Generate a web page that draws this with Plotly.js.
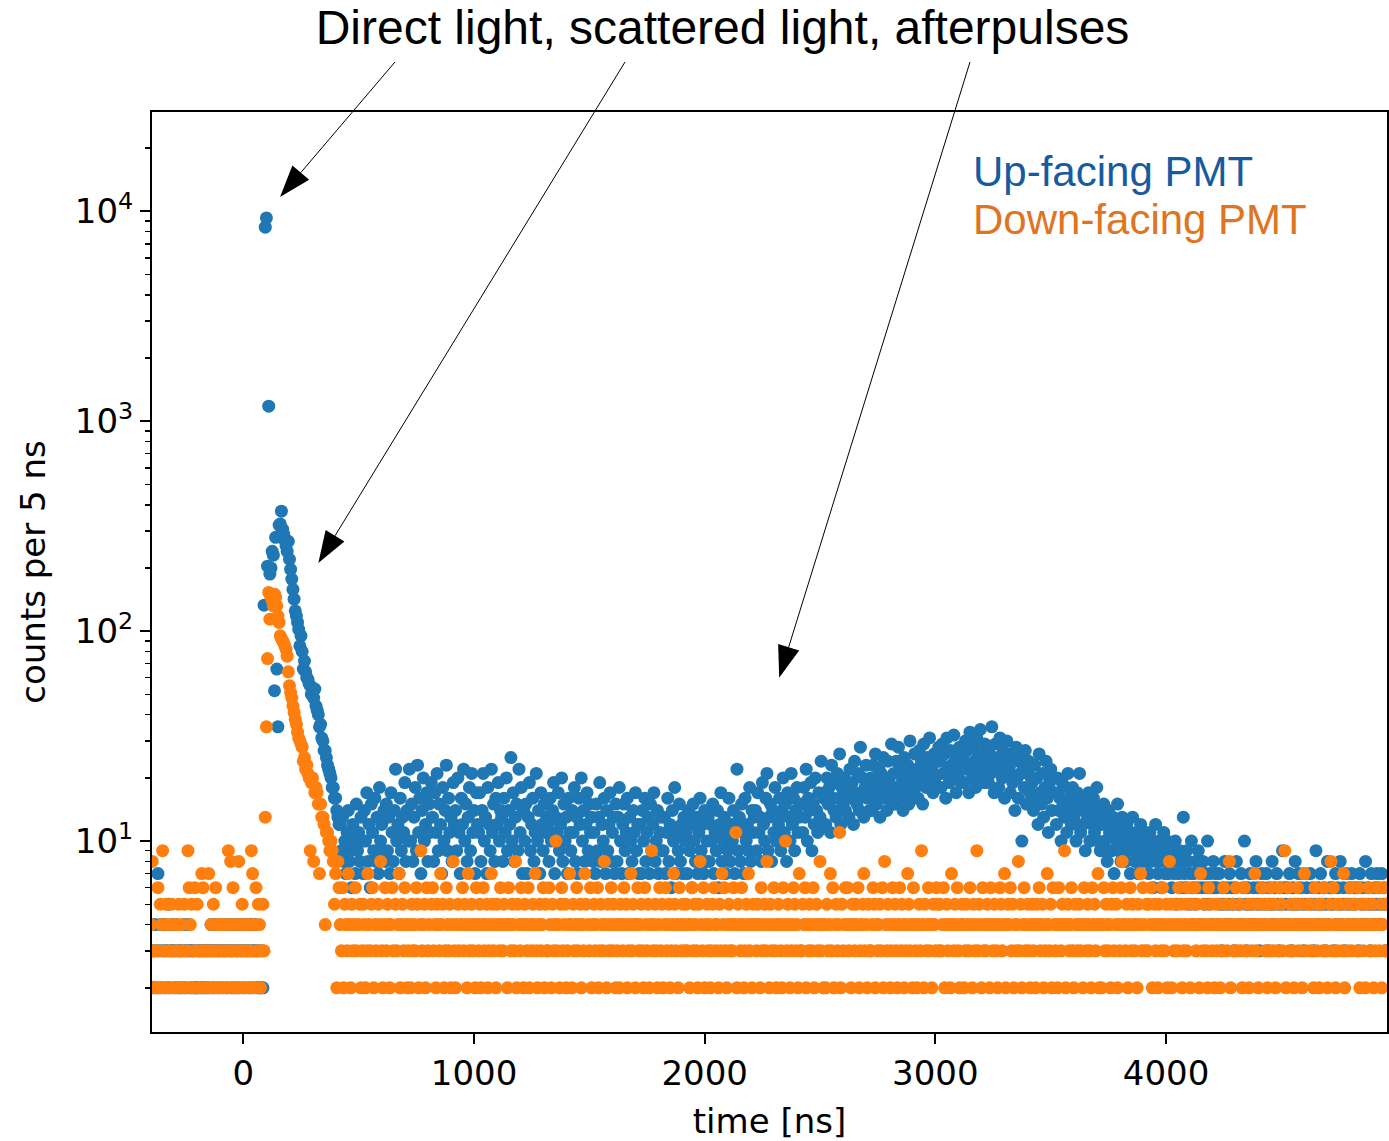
<!DOCTYPE html>
<html><head><meta charset="utf-8">
<script src="https://cdn.plot.ly/plotly-3.0.1.min.js"></script>
<style>html,body{margin:0;padding:0;background:#fff}</style>
</head><body><div id="chart" style="width:1389px;height:1141px"></div>
<script>
// ---- binning ----
const firstBinNs = -400;
const binWidthNs = 5;

// ---- Up-facing PMT counts per 5 ns ----
const upEarly = [ // -400 .. 85 ns
2,2,3,4,3,2,7,3,4,2,3,4,3,2,3,5,2,3,4,3,
3,2,4,3,2,3,3,2,4,3,2,3,4,3,2,3,3,2,3,2,
2,3,3,2,3,2,3,3,2,3,2,3,4,3,2,3,4,3,2,3,
3,4,2,3,3,4,2,3,4,3,2,3,4,2,3,3,4,2,3,4,
3,2,4,3,3,2,4,3,2,3,4,3,2,3,2,2,3,2];
const upPeak = [ // 90 .. 415 ns
133,8400,9300,204,1180,187,200,240,230,52,
280,66,35,320,324,373,306,290,270,255,
240,268,220,197,177,158,142,125,118,110,
102,85,95,80,66,72,64,60,59,56,
55,50,53,48,53,44,42,40,35,36,
31,30,27,27,25,23,22,21,20,18,
18,16,16,14,13,12];
const upLate = [ // 420 .. 4955 ns
12,9,13,8,10,7,11,14,8,9,6,12,10,7,15,9,11,8,13,10,
7,14,10,17,8,12,6,15,11,9,16,8,13,7,18,10,12,9,14,8,
15,9,13,7,17,11,8,14,22,10,12,7,16,9,13,11,19,8,14,10,
22,10,15,8,13,18,9,23,11,16,7,14,20,10,12,17,8,15,11,19,
13,8,17,11,21,9,15,12,7,18,10,14,23,9,16,11,13,8,19,12,
14,9,20,11,7,16,12,22,10,15,8,13,18,9,21,11,14,7,17,12,
11,17,8,14,21,10,13,7,18,12,9,22,11,15,8,16,12,19,10,14,
13,8,16,11,20,9,14,12,25,10,17,8,13,15,9,22,11,18,7,14,
10,15,7,13,19,9,12,16,8,11,21,10,14,7,17,12,9,15,11,13,
12,8,16,10,14,19,7,13,11,17,9,12,20,8,15,10,13,7,16,11,
9,14,11,18,8,13,7,16,12,20,10,14,8,12,17,9,15,11,13,8,
11,7,15,9,13,19,8,12,10,16,7,14,9,12,17,8,11,13,7,15,
8,13,18,10,7,12,15,9,11,16,7,13,10,8,14,11,17,9,12,7,
12,7,14,10,16,8,11,13,7,15,9,12,17,8,10,14,7,11,13,9,
9,13,7,11,16,8,12,6,14,10,18,7,11,9,15,8,12,7,13,10,
11,7,14,9,12,6,15,10,8,13,7,11,16,9,12,7,14,8,10,13,
8,12,10,15,7,11,9,14,6,12,17,8,10,13,7,11,9,16,8,12,
10,14,7,12,22,9,13,8,15,11,7,16,10,12,9,18,8,14,11,13,
14,9,17,11,13,8,19,12,10,16,21,9,13,15,8,14,11,18,10,13,
12,16,9,14,20,11,15,8,17,13,10,21,12,16,9,14,18,11,13,15,
15,11,18,13,22,10,16,14,19,9,15,12,20,14,11,17,13,24,12,16,
17,12,20,15,18,11,23,16,14,19,13,21,16,26,12,18,15,20,14,17,
18,13,22,16,19,12,24,17,15,21,14,28,17,20,13,18,23,16,19,14,
20,14,23,17,26,15,19,22,13,21,18,25,16,20,14,24,19,17,29,15,
21,15,24,18,28,16,22,19,14,25,20,17,23,15,30,19,21,16,26,18,
22,16,27,20,24,15,29,21,18,25,23,31,19,22,17,26,20,24,18,28,
24,18,29,21,26,16,31,22,19,27,23,20,32,24,17,25,21,28,19,23,
25,19,30,22,27,17,33,23,20,28,24,18,31,25,21,34,22,26,19,29,
23,28,19,26,21,35,24,17,29,22,25,18,31,23,20,27,16,24,30,21,
22,17,26,19,24,14,28,20,16,25,21,10,23,18,27,15,21,24,17,20,
19,14,23,16,20,12,26,17,15,21,13,18,24,16,11,19,22,14,17,20,
17,12,20,14,16,10,19,15,13,18,11,21,14,16,12,18,13,15,10,17,
14,21,11,16,12,15,9,14,13,17,10,15,12,16,11,13,18,10,14,9,
12,9,15,10,13,8,14,11,12,9,13,7,12,10,15,9,11,8,13,10,
10,8,12,9,11,7,10,13,9,8,11,10,7,9,12,8,10,9,11,8,
9,7,11,8,10,6,9,12,8,7,10,8,6,9,11,7,8,10,7,9,
8,6,9,7,10,5,8,7,9,6,8,13,7,6,9,8,5,7,10,6,
7,5,8,6,9,4,7,6,8,5,7,6,10,5,7,6,4,8,6,7,
6,4,7,5,3,6,5,8,4,6,5,7,4,6,5,3,6,8,5,4,
5,7,4,6,10,5,3,6,5,7,4,5,6,4,8,5,6,3,5,7,
6,4,5,7,3,6,5,4,8,5,6,4,7,5,3,6,5,9,4,6,
5,6,4,7,5,3,6,5,8,4,5,7,4,6,5,3,7,5,6,4,
4,7,5,6,3,5,9,4,6,5,7,4,5,6,3,5,8,4,6,5,
6,5,3,7,4,6,5,8,4,5,6,3,7,5,4,6,5,7,4,6,
5,4,6,3,7,5,6,4,5,8,4,6,5,3,7,5,4,6,5,7,
6,5,4,7,5,6,3,5];

// ---- Down-facing PMT counts per 5 ns ----
const downEarly = [ // -400 .. 85 ns
4,8,3,2,1,3,6,2,5,4,9,3,2,5,4,1,3,2,5,4,
2,3,4,1,5,2,3,4,0,5,2,3,9,6,4,5,2,3,6,1,
5,2,3,1,7,6,3,2,1,3,7,2,4,3,5,2,6,4,3,2,
1,4,3,2,4,3,2,9,4,8,3,6,2,4,3,2,8,4,3,5,
2,4,3,1,4,2,3,9,7,4,2,6,3,5,4,2,3,5];
const downPeak = [ // 90 .. 415 ns
3,13,35,74,153,114,145,140,132,150,
145,132,118,110,95,92,90,88,85,82,
76,64,55,51,48,44,41,38,36,33,
31,30,29,28,24,25,22,23,21,20,
9,19,20,8,17,18,17,15,7,15,
13,13,12,4,11,11,10,9,10,9,
8,5,7,2,8,6];
const downLate = [ // 420 .. 4955 ns
4,3,6,2,5,4,3,7,4,2,5,3,4,6,3,1,4,5,2,3,
5,4,2,3,7,4,3,5,6,2,4,3,1,5,4,8,3,2,4,6,
3,5,4,2,4,6,3,0,5,3,4,7,2,4,5,3,6,4,2,3,
4,2,5,3,4,3,6,5,2,4,9,3,4,5,2,6,3,4,1,5,
6,3,4,2,5,4,3,7,4,5,2,3,6,4,3,5,2,4,8,3,
2,4,5,3,1,4,6,3,5,4,2,7,3,4,5,3,4,2,6,4,
3,5,2,4,6,3,4,5,2,3,4,7,5,3,4,2,5,4,3,6,
4,3,5,1,4,2,6,4,3,5,4,3,8,2,5,4,3,6,4,2,
5,4,3,6,2,4,3,5,4,7,3,2,4,5,3,4,6,2,5,3,
3,6,4,2,5,3,4,10,3,4,2,5,6,3,4,5,2,3,4,7,
4,2,5,3,4,6,3,4,5,2,4,3,7,5,1,4,3,6,2,4,
5,3,4,6,2,3,5,4,3,8,4,2,5,3,4,6,3,5,4,2,
3,4,2,5,4,3,6,4,5,2,3,4,7,3,5,4,2,4,6,3,
4,5,3,2,6,4,3,5,2,4,9,3,4,5,3,2,4,6,3,5,
2,4,6,3,4,5,2,3,4,7,5,3,4,2,6,4,3,5,4,3,
5,3,4,2,4,6,3,5,4,3,2,5,8,4,3,6,2,4,5,3,
4,2,3,5,6,4,3,4,2,5,3,7,4,6,3,2,4,5,3,4,
3,6,4,11,2,5,4,3,6,4,2,3,5,4,7,3,4,2,5,4,
4,3,5,4,2,6,3,4,5,3,8,4,2,5,3,4,6,3,2,4,
5,4,3,2,6,4,10,3,5,4,2,3,4,6,5,3,4,2,7,3,
3,5,4,6,2,4,3,5,4,3,6,2,4,5,3,4,8,3,4,2,
4,2,5,3,4,7,3,6,2,4,5,3,4,11,2,5,3,4,6,4,
6,3,4,2,5,4,3,5,4,6,2,3,4,5,7,3,4,2,5,3,
3,4,6,5,2,4,3,4,5,3,6,2,8,4,3,5,4,2,3,6,
4,5,3,2,4,6,3,5,4,2,3,4,7,5,3,4,2,6,4,3,
2,4,5,3,9,4,2,5,3,4,6,3,4,2,5,4,3,6,5,3,
5,3,4,6,2,4,5,3,4,2,7,4,3,5,4,6,3,2,4,5,
4,2,3,5,4,3,6,4,2,5,3,4,9,3,5,4,2,6,3,4,
3,5,4,2,6,4,3,5,4,3,2,4,6,5,3,4,7,2,4,5,
4,6,3,5,2,4,3,4,8,3,5,2,4,6,3,4,5,3,2,4,
5,3,4,2,5,4,6,3,4,5,2,3,4,7,4,3,5,2,6,4,
3,4,2,6,4,3,5,4,9,2,4,5,3,4,6,3,2,5,4,3,
4,5,3,4,2,6,4,3,5,4,3,2,6,4,5,3,4,7,2,4,
2,4,6,3,5,4,3,4,2,5,6,3,4,5,2,4,3,6,8,4,
4,3,5,2,4,6,3,5,4,3,4,2,5,4,7,3,6,4,3,5,
3,5,4,6,2,4,5,3,4,2,5,4,3,6,4,3,5,2,4,8,
5,2,4,3,5,4,3,6,4,5,2,3,4,5,3,6,4,2,5,4,
4,6,3,5,4,2,7,4,3,5,4,3,2,6,4,5,3,4,2,5,
3,4,5,2,4,3,6,4,5,3,4,8,2,4,5,3,4,6,3,4,
5,3,2,4,6,3,4,5,2,4,3,5,4,7,3,4,2,5,4,6,
4,5,3,4,2,5,3,6,4,3,5,2,4,3,6,4,5,3,4,9,
2,4,6,3,5,4,3,2,5,4,6,3,4,5,2,4,7,3,4,5,
4,3,5,4,2,6,4,3,5,2,4,5,3,6,4,3,2,4,5,8,
3,6,4,2,5,3,4,5,4,3,7,2,4,5,3,4,6,3,5,4,
5,4,3,6,2,4,5,3,4,2,5,4,6,3,4,5,2,3,4,6,
4,3,5,2,4,6,3,5];

// ---- axis & text ----
const xTickVals = [0, 1000, 2000, 3000, 4000];
const yTickVals = [10, 100, 1000, 10000];
const yTickText = ['10<sup>1</sup>', '10<sup>2</sup>', '10<sup>3</sup>', '10<sup>4</sup>'];
const seriesNames = ['Up-facing PMT', 'Down-facing PMT'];
const titleText = 'Direct light, scattered light, afterpulses';
// arrow tips in data units (ns, counts)
const arrowTipNs = [159, 325, 2323];
const arrowTipCounts = [11700, 211, 60];

// ---- build ----
const upCounts = upEarly.concat(upPeak, upLate);
const downCounts = downEarly.concat(downPeak, downLate);
const timesFor = arr => arr.map((_, i) => firstBinNs + i * binWidthNs);

const W = 1389, H = 1141;
const M = {l: 152, r: 2, t: 112, b: 109};
const PW = W - M.l - M.r, PH = H - M.t - M.b;
const xRange = [-396, 4958];
const yRange = [0.0905, 4.473];

const minorVals = [];
[1, 10, 100, 1000, 10000].forEach(d => { for (let k = 2; k <= 9; k++) minorVals.push(k * d); });

const dataPx = (ns, c) => [M.l + (ns - xRange[0]) / (xRange[1] - xRange[0]) * PW,
                           M.t + (yRange[1] - Math.log10(c)) / (yRange[1] - yRange[0]) * PH];
const toPaper = (px, py) => [(px - M.l) / PW, (M.t + PH - py) / PH];

// arrow tails just below the heading text (pixels)
const tailY = 62;
const tailX = [395, 625, 970];
const shapes = [];
arrowTipNs.forEach((ns, i) => {
  const [tx, ty] = dataPx(ns, arrowTipCounts[i]);
  const sx = tailX[i], sy = tailY;
  const L = Math.hypot(tx - sx, ty - sy);
  const dx = (tx - sx) / L, dy = (ty - sy) / L;
  const headL = 32, headW = 11;
  const bx = tx - headL * dx, by = ty - headL * dy;
  const c1 = [bx - headW * dy, by + headW * dx];
  const c2 = [bx + headW * dy, by - headW * dx];
  const p0 = toPaper(sx, sy), pb = toPaper(bx, by);
  shapes.push({type: 'line', xref: 'paper', yref: 'paper', x0: p0[0], y0: p0[1], x1: pb[0], y1: pb[1],
               line: {color: 'black', width: 1}});
  const a = toPaper(tx, ty), b = toPaper(c1[0], c1[1]), c = toPaper(c2[0], c2[1]);
  shapes.push({type: 'path', xref: 'paper', yref: 'paper',
               path: `M${a[0]},${a[1]} L${b[0]},${b[1]} L${c[0]},${c[1]} Z`,
               fillcolor: 'black', line: {width: 0}});
});

const tickFont = {family: 'DejaVu Sans', size: 34, color: 'black'};
const traces = [
  {type: 'scatter', mode: 'markers', name: seriesNames[0], x: timesFor(upCounts), y: upCounts,
   marker: {color: '#1f77b4', size: 13, line: {width: 0}}, cliponaxis: true},
  {type: 'scatter', mode: 'markers', name: seriesNames[1], x: timesFor(downCounts), y: downCounts,
   marker: {color: '#ff7f0e', size: 13, line: {width: 0}}, cliponaxis: true}
];

const lp = toPaper(971, 172), lp2 = toPaper(971, 219);
const layout = {
  width: W, height: H, margin: M, showlegend: false,
  paper_bgcolor: 'white', plot_bgcolor: 'white',
  title: {text: titleText, font: {family: 'Liberation Sans', size: 48, color: 'black'},
          x: 722.5 / W, xanchor: 'center', xref: 'container', y: 1 - 27 / H, yanchor: 'middle', yref: 'container'},
  xaxis: {range: xRange, tickmode: 'array', tickvals: xTickVals, ticks: 'outside', ticklen: 10, tickwidth: 2,
          tickcolor: 'black', tickfont: tickFont, showgrid: false, zeroline: false,
          showline: true, linecolor: 'black', linewidth: 2, mirror: true,
          title: {text: 'time [ns]', font: tickFont, standoff: 18}},
  yaxis: {type: 'log', range: yRange, tickmode: 'array', tickvals: yTickVals, ticktext: yTickText,
          ticks: 'outside', ticklen: 10, tickwidth: 2, tickcolor: 'black', tickfont: tickFont,
          minor: {tickmode: 'array', tickvals: minorVals, ticks: 'outside', ticklen: 5, tickwidth: 1.5, tickcolor: 'black', showgrid: false},
          showgrid: false, zeroline: false, showline: true, linecolor: 'black', linewidth: 2, mirror: true,
          title: {text: 'counts per 5 ns', font: tickFont, standoff: 19}},
  shapes: shapes,
  annotations: [
    {xref: 'paper', yref: 'paper', x: lp[0], y: lp[1], xanchor: 'left', yanchor: 'middle', showarrow: false,
     text: seriesNames[0], font: {family: 'Liberation Sans', size: 42, color: '#165ba0'}},
    {xref: 'paper', yref: 'paper', x: lp2[0], y: lp2[1], xanchor: 'left', yanchor: 'middle', showarrow: false,
     text: seriesNames[1], font: {family: 'Liberation Sans', size: 42, color: '#df7421'}}
  ]
};
Plotly.newPlot('chart', traces, layout, {staticPlot: true});
</script></body></html>
